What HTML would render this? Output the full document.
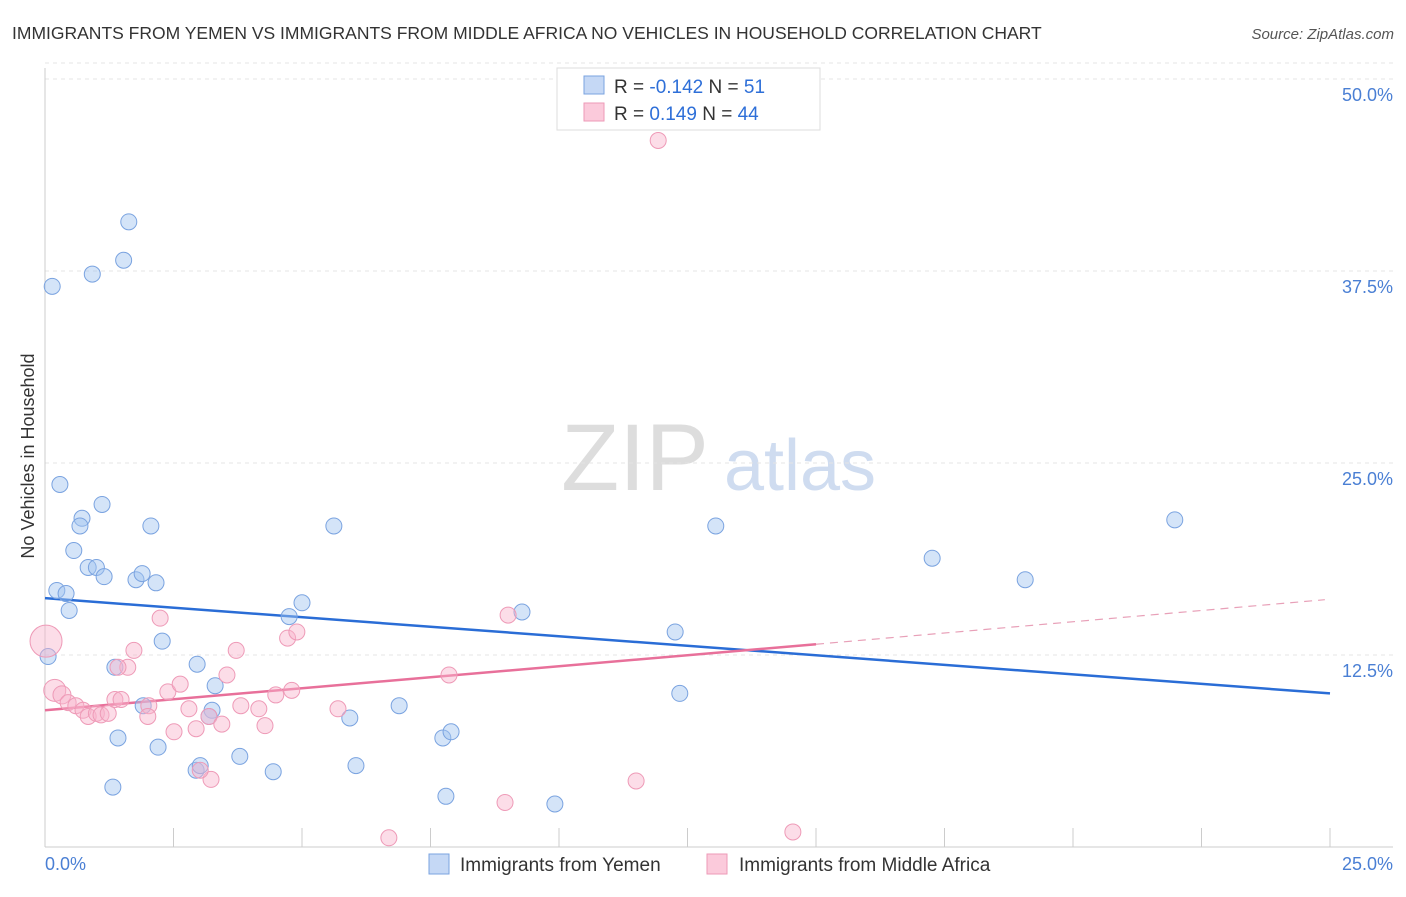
<!DOCTYPE html>
<html><head><meta charset="utf-8"><style>
body{margin:0;background:#fff;font-family:"Liberation Sans",sans-serif;}
svg text{font-family:"Liberation Sans",sans-serif;}
</style></head><body>
<svg id="chart" width="1406" height="892" viewBox="0 0 1406 892" xmlns="http://www.w3.org/2000/svg">
<text x="12" y="39" font-size="17.5" fill="#333">IMMIGRANTS FROM YEMEN VS IMMIGRANTS FROM MIDDLE AFRICA NO VEHICLES IN HOUSEHOLD CORRELATION CHART</text>
<text x="1394" y="39" font-size="15" fill="#555" text-anchor="end" font-style="italic">Source: ZipAtlas.com</text>
<text transform="translate(34,456) rotate(-90)" font-size="18" fill="#333" text-anchor="middle">No Vehicles in Household</text>
<g>
<text x="635" y="490" font-size="95" fill="#ddd" text-anchor="middle" font-family="Liberation Serif,serif">ZIP</text>
<text x="800" y="490" font-size="72" fill="#cfdcf0" text-anchor="middle">atlas</text>
</g>
<g id="grid"></g><g id="axes"></g><g id="lines"></g><g id="pts"></g>
<g>
<rect x="557" y="68" width="263" height="62" fill="#fff" stroke="#ddd"/>
<rect x="584" y="76" width="20" height="18" fill="#c5d8f5" stroke="#7aa3e0"/>
<rect x="584" y="103" width="20" height="18" fill="#fbcadb" stroke="#ee9ab7"/>
<text x="614" y="93" font-size="19" fill="#333">R = <tspan fill="#2e6fd8">-0.142</tspan>   N = <tspan fill="#2e6fd8"> 51</tspan></text>
<text x="614" y="120" font-size="19" fill="#333">R =  <tspan fill="#2e6fd8"> 0.149</tspan>   N = <tspan fill="#2e6fd8">44</tspan></text>
</g>
<g>
<rect x="429" y="854" width="20" height="20" fill="#c5d8f5" stroke="#7aa3e0"/>
<text x="460" y="871" font-size="19" fill="#333">Immigrants from Yemen</text>
<rect x="707" y="854" width="20" height="20" fill="#fbcadb" stroke="#ee9ab7"/>
<text x="739" y="871" font-size="19" fill="#333">Immigrants from Middle Africa</text>
</g>
</svg>
<script>
const NS="http://www.w3.org/2000/svg";
const yTicks=[12.5,25,37.5,50];
const yTickLabels=["12.5%","25.0%","37.5%","50.0%"];
const xTickVals=[0,2.5,5,7.5,10,12.5,15,17.5,20,22.5,25];
const blueX=[0.14,0.92,1.53,1.63,0.29,1.11,0.72,0.68,2.06,0.56,0.84,1.0,1.15,1.77,1.89,2.16,0.23,0.41,0.47,2.28,0.06,1.36,2.96,3.31,1.91,3.25,3.19,1.42,2.2,3.79,2.94,3.02,4.44,1.32,5.62,5.0,4.75,5.93,6.05,6.89,7.74,7.9,7.8,9.28,9.92,12.26,12.35,13.05,17.26,19.07,21.98];
const blueY=[36.5,37.3,38.2,40.7,23.6,22.3,21.4,20.9,20.9,19.3,18.2,18.2,17.6,17.4,17.8,17.2,16.7,16.5,15.4,13.4,12.4,11.7,11.9,10.5,9.2,8.9,8.5,7.1,6.5,5.9,5.0,5.3,4.9,3.9,20.9,15.9,15.0,8.4,5.3,9.2,7.1,7.5,3.3,15.3,2.8,14.0,10.0,20.9,18.8,17.4,21.3];
const pinkX=[11.93,0.02,0.19,0.33,0.45,0.6,0.74,0.84,1.0,1.09,1.23,1.36,1.48,1.61,1.73,2.02,2.0,2.24,2.39,2.63,2.51,2.8,2.94,3.19,3.44,3.54,3.72,3.81,4.16,4.28,4.49,4.8,4.72,4.9,5.7,7.86,9.01,3.23,6.69,8.95,11.5,14.55,3.02,1.42];
const pinkY=[46.0,13.4,10.2,9.9,9.4,9.2,8.9,8.5,8.7,8.6,8.7,9.6,9.6,11.7,12.8,9.2,8.5,14.9,10.1,10.6,7.5,9.0,7.7,8.5,8.0,11.2,12.8,9.2,9.0,7.9,9.9,10.2,13.6,14.0,9.0,11.2,15.1,4.4,0.6,2.9,4.3,0.98,5.0,11.7];
const pinkR=[8,16,11,9,8,8,8,8,8,8,8,8,8,8,8,8,8,8,8,8,8,8,8,8,8,8,8,8,8,8,8,8,8,8,8,8,8,8,8,8,8,8,8,8];
const blueTrend=[16.2,10.0];
const pinkTrend=[8.9,13.2,16.1];
const X=v=>45+v/25*1285, Y=v=>847-v*15.36;
function mk(p,t,a,name){const e=document.createElementNS(NS,t);for(const k in a)e.setAttribute(k,a[k]);


document.getElementById(p).appendChild(e);return e;}
mk('grid','line',{x1:45,x2:1393,y1:Y(50)-16,y2:Y(50)-16,stroke:'#e4e4e4','stroke-dasharray':'4,4'},'gridline-top');
yTicks.forEach((v,i)=>{mk('grid','line',{x1:45,x2:1393,y1:Y(v),y2:Y(v),stroke:'#e4e4e4','stroke-dasharray':'4,4'},'gridline');
const t=mk('axes','text',{x:1393,y:Y(v)+22,'font-size':18,fill:'#4a7fd4','text-anchor':'end'},'y-tick-label');t.textContent=yTickLabels[i];});
mk('axes','line',{x1:45,x2:45,y1:68,y2:847,stroke:'#ccc'},'y-axis');
mk('axes','line',{x1:45,x2:1393,y1:847,y2:847,stroke:'#ccc'},'x-axis');
xTickVals.forEach(v=>mk('axes','line',{x1:X(v),x2:X(v),y1:828,y2:847,stroke:'#ccc'},'x-tick'));
let t=mk('axes','text',{x:45,y:870,'font-size':18,fill:'#4a7fd4'},'x-tick-label');t.textContent='0.0%';
t=mk('axes','text',{x:1393,y:870,'font-size':18,fill:'#4a7fd4','text-anchor':'end'},'x-tick-label');t.textContent='25.0%';
blueX.forEach((x,i)=>mk('pts','circle',{cx:X(x),cy:Y(blueY[i]),r:8,fill:'rgba(160,195,240,0.45)',stroke:'#7aa3e0','stroke-width':1},'yemen-point'));
pinkX.forEach((x,i)=>mk('pts','circle',{cx:X(x),cy:Y(pinkY[i]),r:pinkR[i],fill:'rgba(248,180,205,0.45)',stroke:'#ee9ab7','stroke-width':1},'middle-africa-point'));
mk('lines','line',{x1:X(0),y1:Y(blueTrend[0]),x2:X(25),y2:Y(blueTrend[1]),stroke:'#2a6dd6','stroke-width':2.5},'yemen-trend-line');
mk('lines','line',{x1:X(0),y1:Y(pinkTrend[0]),x2:X(15),y2:Y(pinkTrend[1]),stroke:'#e8709a','stroke-width':2.5},'middle-africa-trend-line');
mk('lines','line',{x1:X(15),y1:Y(pinkTrend[1]),x2:X(24.9),y2:Y(pinkTrend[2]),stroke:'#e8a0b8','stroke-width':1.2,'stroke-dasharray':'8,6'},'middle-africa-trend-extension');
</script>
</body></html>
